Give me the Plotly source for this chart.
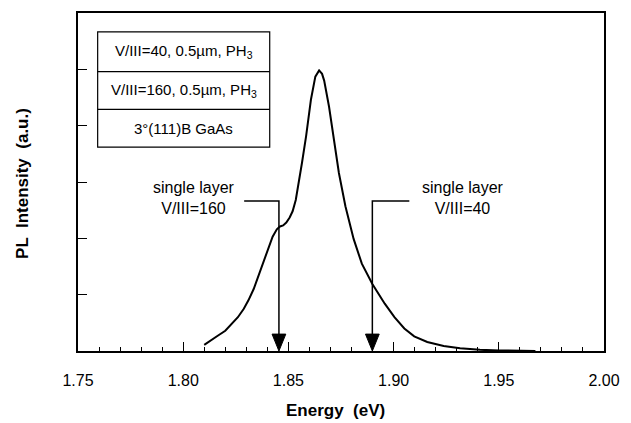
import plotly.graph_objects as go

# ---- data ----
energy_ev = [1.8100, 1.8130, 1.8164, 1.8200, 1.8226, 1.8260, 1.8288, 1.8310, 1.8335,
             1.8360, 1.8382, 1.8405, 1.8425, 1.8445, 1.8460, 1.8475, 1.8490, 1.8506,
             1.8520, 1.8535, 1.8550, 1.8565, 1.8584, 1.8607, 1.8628, 1.8646, 1.8660,
             1.8670, 1.8693, 1.8716, 1.8740, 1.8771, 1.8810, 1.8849, 1.8899, 1.8958,
             1.9004, 1.9051, 1.9098, 1.9160, 1.9238, 1.9316, 1.9410, 1.9503, 1.9600,
             1.9674]
pl_intensity = [0.11, 0.18, 0.27, 0.36, 0.46, 0.60, 0.75, 0.90, 1.10,
                1.35, 1.58, 1.82, 2.03, 2.16, 2.21, 2.23, 2.28, 2.37,
                2.48, 2.68, 3.00, 3.35, 3.81, 4.46, 4.87, 4.98, 4.92,
                4.80, 4.34, 3.75, 3.16, 2.57, 1.99, 1.55, 1.19, 0.84,
                0.60, 0.40, 0.26, 0.16, 0.09, 0.05, 0.02, 0.01, 0.005,
                0.00]

marker_energy = [1.8455, 1.8899]          # single-layer peak positions
marker_labels = ["single layer<br>V/III=160", "single layer<br>V/III=40"]
layer_rows = ["V/III=40, 0.5µm, PH<sub>3</sub>",
              "V/III=160, 0.5µm, PH<sub>3</sub>",
              "3°(111)B GaAs"]
x_ticks = [1.75, 1.80, 1.85, 1.90, 1.95, 2.00]
x_tick_text = ["1.75", "1.80", "1.85", "1.90", "1.95", "2.00"]

# ---- figure ----
FONT = "Liberation Sans, Arial, Helvetica, sans-serif"
fig = go.Figure()
fig.add_trace(go.Scatter(x=energy_ev, y=pl_intensity, mode="lines",
                         line=dict(color="black", width=2), showlegend=False,
                         hoverinfo="skip"))

L, R, T, B = 78, 18, 11, 72
W, H = 631, 423
pw, ph = W - L - R, H - T - B
xr = [1.75, 2.00]
yr = [0, 6]
ppx = pw / (xr[1] - xr[0])   # px per eV
ppy = ph / (yr[1] - yr[0])   # px per unit

def px2x(px):
    return xr[0] + (px - L) / ppx

def py2y(py):
    return yr[0] + (T + ph - py) / ppy

shapes = []
annotations = []

# arrows with elbow leaders
elbow_y = py2y(200)
head_h = 17 / ppy
head_w = 7 / ppx
elbow_ends = [px2x(247), px2x(415)]
for e, end, lab, tx in zip(marker_energy, elbow_ends, marker_labels, [196, 470]):
    shapes.append(dict(type="path", xref="x", yref="y",
                       path=f"M {end},{elbow_y} L {e},{elbow_y} L {e},{head_h}",
                       line=dict(color="black", width=1.5)))
    shapes.append(dict(type="path", xref="x", yref="y",
                       path=f"M {e-head_w},{head_h} L {e+head_w},{head_h} L {e},0 Z",
                       fillcolor="black", line=dict(color="black", width=1)))
    annotations.append(dict(x=(tx - L) / pw, y=(T + ph - 197) / ph, xref="paper", yref="paper",
                            text=lab, showarrow=False, xanchor="center", yanchor="middle",
                            font=dict(family=FONT, size=16, color="black")))

# layer table
tb_left, tb_right = (98 - L) / pw, (273 - L) / pw
row_edges = [30, 70, 108, 146]
shapes.append(dict(type="rect", xref="paper", yref="paper",
                   x0=tb_left, x1=tb_right,
                   y0=(T + ph - row_edges[-1]) / ph, y1=(T + ph - row_edges[0]) / ph,
                   line=dict(color="black", width=1.2), fillcolor="white"))
for ry in row_edges[1:-1]:
    yy = (T + ph - ry) / ph
    shapes.append(dict(type="line", xref="paper", yref="paper",
                       x0=tb_left, x1=tb_right, y0=yy, y1=yy,
                       line=dict(color="black", width=1.2)))
for i, txt in enumerate(layer_rows):
    cy = (row_edges[i] + row_edges[i + 1]) / 2
    annotations.append(dict(x=(tb_left + tb_right) / 2, y=(T + ph - cy) / ph,
                            xref="paper", yref="paper", text=txt, showarrow=False,
                            xanchor="center", yanchor="middle",
                            font=dict(family=FONT, size=15, color="black")))

# axis titles
annotations.append(dict(x=(340 - L) / pw, y=(T + ph - 411) / ph, xref="paper", yref="paper",
                        text="<b>Energy  (eV)</b>", showarrow=False,
                        xanchor="center", yanchor="middle",
                        font=dict(family=FONT, size=17, color="black")))
annotations.append(dict(x=(22 - L) / pw, y=(T + ph - 182) / ph, xref="paper", yref="paper",
                        text="<b>PL  Intensity  (a.u.)</b>", showarrow=False, textangle=-90,
                        xanchor="center", yanchor="middle",
                        font=dict(family=FONT, size=17, color="black")))

fig.update_layout(
    width=W, height=H,
    margin=dict(l=L, r=R, t=T, b=B, pad=0),
    paper_bgcolor="white", plot_bgcolor="white",
    shapes=shapes, annotations=annotations,
    font=dict(family=FONT, size=16, color="black"),
    xaxis=dict(range=xr, tickvals=x_ticks, ticktext=x_tick_text,
               ticks="inside", ticklen=9, tickwidth=1.2, tickcolor="black",
               ticklabelstandoff=14,
               minor=dict(ticks="inside", dtick=0.01, ticklen=4, tickwidth=1, tickcolor="black"),
               showline=True, linecolor="black", linewidth=1.8, mirror=True,
               showgrid=False, zeroline=False,
               tickfont=dict(family=FONT, size=16, color="black")),
    yaxis=dict(range=yr, dtick=1, ticks="inside", ticklen=9, tickwidth=1.2, tickcolor="black",
               showticklabels=False,
               showline=True, linecolor="black", linewidth=1.8, mirror=True,
               showgrid=False, zeroline=False),
)

fig.write_html("out.html")
